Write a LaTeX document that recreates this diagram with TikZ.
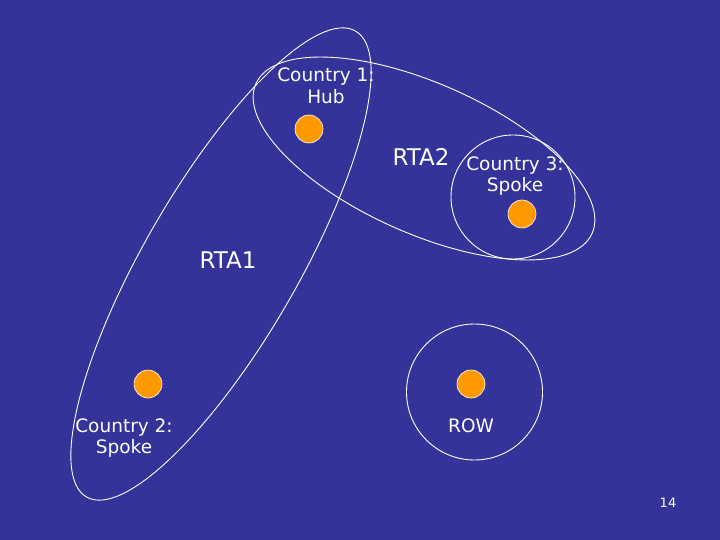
\documentclass[tikz,border=0pt]{standalone}
\usepackage{fontspec}
\setmainfont{DejaVu Sans}
\usetikzlibrary{positioning}
\definecolor{slideblue}{HTML}{333399}
\definecolor{dotorange}{HTML}{FF9900}
\tikzset{
  country/.style={circle, fill=dotorange, draw=white, line width=0.6pt, minimum size=28pt, inner sep=0pt},
  tag/.style={text=white, align=center, inner sep=0pt, font=\fontsize{18.5}{21.5}\selectfont},
  rta/.style={text=white, inner sep=0pt, font=\fontsize{23}{26}\selectfont},
  ring/.style={draw=white, line width=0.9pt}
}

\begin{document}
\begin{tikzpicture}[x=1pt, y=-1pt]
            \fill[slideblue] (0,0) rectangle (720,540);
            \useasboundingbox (0,0) rectangle (720,540);
            \node[country] (hub) at (309, 129) {};
            \node[country] (spoke3) at (522, 214) {};
            \node[country] (spoke2) at (148, 384) {};
            \node[country] (row) at (471, 384) {};
            \node[tag] (hublab) at (326, 86) {Country 1:\\Hub};
            \node[tag] (spoke3lab) at (515, 176) {Country 3:\\Spoke};
            \node[tag] (spoke2lab) at (124, 438) {Country 2:\\Spoke};
            \node[tag] (rowlab) at (471, 426) {ROW};
            \node[rta] (rta1) at (228, 260) {RTA1};
            \node[rta] (rta2) at (421, 157) {RTA2};
            \node[text=white, inner sep=0pt, font=\fontsize{13}{15}\selectfont] (page) at (668, 503) {14};
            \draw[ring] (row) ++(3.5, 8) circle (68);
            \draw[ring] (spoke3) ++(-9, -17) circle (62);
            \draw[ring, shift={(424, 158.5)}, rotate=-24] (0,0) ellipse [x radius=184, y radius=75];
            \draw[ring, shift={(221, 264)}, rotate=60] (0,0) ellipse [x radius=269, y radius=77];
        \end{tikzpicture}
\end{document}
